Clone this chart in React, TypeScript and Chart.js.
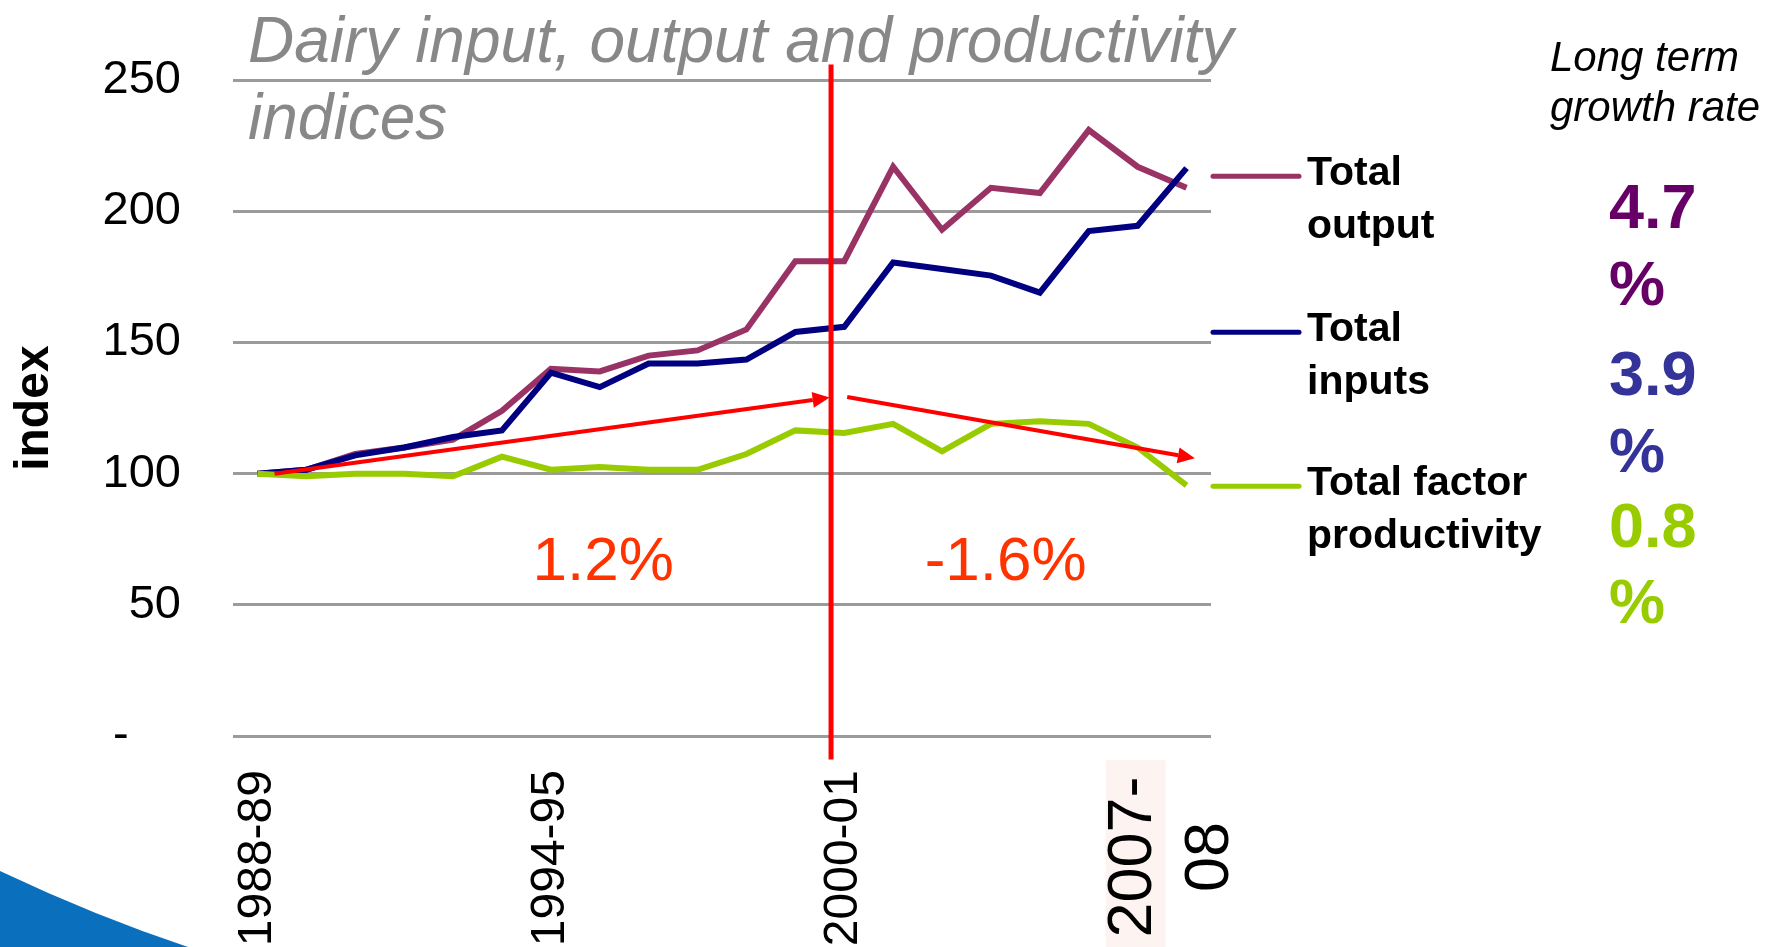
import React, { useEffect, useRef } from 'react';
import { Chart, registerables } from 'chart.js';

Chart.register(...registerables);

const FAMILY = "'Liberation Sans', Arial, Helvetica, sans-serif";

// ---- data ----
const categories = [
  '1988-89', '1989-90', '1990-91', '1991-92', '1992-93', '1993-94', '1994-95',
  '1995-96', '1996-97', '1997-98', '1998-99', '1999-00', '2000-01', '2001-02',
  '2002-03', '2003-04', '2004-05', '2005-06', '2006-07', '2007-08',
];
const totalOutput = [100, 101.5, 107.5, 110, 113, 124, 140, 139, 145, 147, 155, 181, 181, 217, 193, 209, 207, 231, 217, 209];
const totalInputs = [100, 101.5, 107, 110, 114, 116.5, 138.5, 133, 142, 142, 143.5, 154, 156, 180.5, 178, 175.5, 169, 192.5, 194.5, 216.5];
const totalFactorProductivity = [100, 99, 100, 100, 99, 106.5, 101.5, 102.5, 101.5, 101.5, 107.5, 116.5, 115.5, 119, 108.5, 119, 120, 119, 110, 95.5];

const yTickValues = [0, 50, 100, 150, 200, 250];
const shownTickIndexes = [0, 6, 12];
const lastTickIndex = 19;
const lastTickLines = ['2007-', '08'];

const seriesNames = ['Total output', 'Total inputs', 'Total factor productivity'];
const legendLines = [['Total', 'output'], ['Total', 'inputs'], ['Total factor', 'productivity']];
const seriesColors = ['#993366', '#000080', '#99CC00'];

const growthHeading = ['Long term', 'growth rate'];
const growthRates = ['4.7', '3.9', '0.8'];
const growthColors = ['#660066', '#333399', '#99CC00'];

const titleLines = ['Dairy input, output and productivity', 'indices'];

// trend annotations (category index, value)
const trendArrows = [
  { from: [0.35, 100], to: [11.7, 129] },
  { from: [12.06, 129.2], to: [19.17, 105.9] },
];
const trendLabels = [
  { text: '1.2%', at: 7.07, value: 59.3 },
  { text: '-1.6%', at: 15.3, value: 59.3 },
];
const breakAt = 11.73;
const breakRange = [256, -9];

function xAt(chart: any, idx: number) {
  const s = chart.scales.x;
  const p0 = s.getPixelForValue(0);
  const p1 = s.getPixelForValue(1);
  return p0 + idx * (p1 - p0);
}

function drawArrow(ctx: CanvasRenderingContext2D, x1: number, y1: number, x2: number, y2: number) {
  const ang = Math.atan2(y2 - y1, x2 - x1);
  const head = 17;
  const hw = 8;
  const bx = x2 - head * Math.cos(ang);
  const by = y2 - head * Math.sin(ang);
  ctx.beginPath();
  ctx.moveTo(x1, y1);
  ctx.lineTo(bx, by);
  ctx.stroke();
  ctx.beginPath();
  ctx.moveTo(x2, y2);
  ctx.lineTo(bx - hw * Math.sin(ang), by + hw * Math.cos(ang));
  ctx.lineTo(bx + hw * Math.sin(ang), by - hw * Math.cos(ang));
  ctx.closePath();
  ctx.fill();
}

const decorPlugin = {
  id: 'decor',
  beforeDraw(chart: any) {
    const ctx: CanvasRenderingContext2D = chart.ctx;
    const H = chart.height;
    ctx.save();
    // slide template swoosh (bottom-left)
    ctx.fillStyle = '#0A70BE';
    ctx.beginPath();
    ctx.moveTo(0, H - 76);
    ctx.quadraticCurveTo(95, H - 31, 188, H);
    ctx.lineTo(0, H);
    ctx.closePath();
    ctx.fill();
    ctx.restore();
  },
  afterDatasetsDraw(chart: any) {
    const ctx: CanvasRenderingContext2D = chart.ctx;
    const y = chart.scales.y;
    ctx.save();
    ctx.strokeStyle = '#FF0000';
    ctx.fillStyle = '#FF0000';
    // vertical break line
    const bx = xAt(chart, breakAt);
    ctx.lineWidth = 5;
    ctx.beginPath();
    ctx.moveTo(bx, y.getPixelForValue(breakRange[0]));
    ctx.lineTo(bx, y.getPixelForValue(breakRange[1]));
    ctx.stroke();
    // trend arrows
    ctx.lineWidth = 4;
    trendArrows.forEach((a) => {
      drawArrow(
        ctx,
        xAt(chart, a.from[0]), y.getPixelForValue(a.from[1]),
        xAt(chart, a.to[0]), y.getPixelForValue(a.to[1]),
      );
    });
    ctx.restore();
  },
  afterDraw(chart: any) {
    const ctx: CanvasRenderingContext2D = chart.ctx;
    const area = chart.chartArea;
    const y = chart.scales.y;
    ctx.save();
    ctx.textBaseline = 'alphabetic';

    // title (overlaid on the plot)
    ctx.font = `italic 64px ${FAMILY}`;
    ctx.fillStyle = '#888888';
    ctx.textAlign = 'left';
    ctx.fillText(titleLines[0], area.left + 15, area.top - 18);
    ctx.fillText(titleLines[1], area.left + 15, area.top + 59);

    // trend labels
    ctx.font = `62px ${FAMILY}`;
    ctx.fillStyle = '#FF3300';
    ctx.textAlign = 'center';
    trendLabels.forEach((t) => {
      ctx.fillText(t.text, xAt(chart, t.at), y.getPixelForValue(t.value));
    });

    // last category label (separate text box)
    const px = chart.scales.x.getPixelForValue(lastTickIndex);
    ctx.fillStyle = '#FDF4F2';
    ctx.fillRect(px - 81, area.bottom + 24, 60, chart.height - area.bottom - 24);
    ctx.save();
    ctx.font = `63px ${FAMILY}`;
    ctx.fillStyle = '#000000';
    ctx.textAlign = 'center';
    ctx.textBaseline = 'middle';
    const cy = area.bottom + 121;
    [px - 53, px + 24].forEach((lx, i) => {
      ctx.save();
      ctx.translate(lx, cy);
      ctx.rotate(-Math.PI / 2);
      ctx.fillText(lastTickLines[i], 0, 0);
      ctx.restore();
    });
    ctx.restore();

    // legend
    const lx0 = area.right + 2;
    const itemTops = [96, 252, 406];
    legendLines.forEach((lines, i) => {
      const ly = area.top + itemTops[i];
      ctx.strokeStyle = seriesColors[i];
      ctx.lineWidth = 5;
      ctx.lineCap = 'round';
      ctx.beginPath();
      ctx.moveTo(lx0, ly);
      ctx.lineTo(lx0 + 86, ly);
      ctx.stroke();
      ctx.font = `bold 41px ${FAMILY}`;
      ctx.fillStyle = '#000000';
      ctx.textAlign = 'left';
      lines.forEach((t, j) => ctx.fillText(t, lx0 + 94, ly + 9 + j * 53));
    });

    // long term growth rates
    ctx.font = `italic 42px ${FAMILY}`;
    ctx.fillStyle = '#000000';
    ctx.fillText(growthHeading[0], 1550, 71);
    ctx.fillText(growthHeading[1], 1550, 121);
    const rateBaselines = [[228, 305], [395, 472], [547, 623]];
    ctx.font = `bold 63px ${FAMILY}`;
    growthRates.forEach((r, i) => {
      ctx.fillStyle = growthColors[i];
      ctx.fillText(r, 1609, rateBaselines[i][0]);
      ctx.fillText('%', 1609, rateBaselines[i][1]);
    });
    ctx.restore();
  },
};

export default function App() {
  const ref = useRef<HTMLCanvasElement>(null);

  useEffect(() => {
    const canvas = ref.current;
    if (!canvas) return;
    const seriesData = [totalOutput, totalInputs, totalFactorProductivity];
    const chart = new Chart(canvas, {
      type: 'line',
      data: {
        labels: categories,
        datasets: seriesData.map((d, i) => ({
          label: seriesNames[i],
          data: d,
          borderColor: seriesColors[i],
          backgroundColor: seriesColors[i],
          borderWidth: 6,
          pointRadius: 0,
          tension: 0,
          fill: false,
          order: 3 - i,
        })),
      },
      options: {
        animation: false,
        responsive: false,
        devicePixelRatio: 1,
        layout: { padding: { left: 0, top: 78, right: 555, bottom: 0 } },
        plugins: {
          legend: { display: false },
          title: { display: false },
          tooltip: { enabled: false },
        },
        scales: {
          x: {
            type: 'category',
            offset: true,
            grid: { display: false, drawTicks: false },
            border: { display: false },
            ticks: {
              autoSkip: false,
              minRotation: 90,
              maxRotation: 90,
              padding: 34,
              color: '#000000',
              font: { size: 48, family: FAMILY },
              callback: (_v: any, i: number) => (shownTickIndexes.includes(i) ? categories[i] : ''),
            },
            afterFit: (s: any) => {
              s.height = 211;
            },
          },
          y: {
            min: yTickValues[0],
            max: yTickValues[yTickValues.length - 1],
            grid: { color: '#9B9B9B', lineWidth: 3, drawTicks: false },
            border: { display: false },
            ticks: {
              stepSize: 50,
              padding: 52,
              color: '#000000',
              font: { size: 47, family: FAMILY },
              callback: (v: any) => (Number(v) === 0 ? '-    ' : String(v)),
            },
            title: {
              display: true,
              text: 'index',
              color: '#000000',
              font: { size: 48, weight: 'bold', family: FAMILY },
              padding: { top: 6, bottom: 0 },
            },
            afterFit: (s: any) => {
              s.width = 233;
            },
          },
        },
      },
      plugins: [decorPlugin],
    } as any);
    return () => chart.destroy();
  }, []);

  return (
    <div style={{ position: 'fixed', left: 0, top: 0, width: 1766, height: 947, overflow: 'hidden', background: '#ffffff' }}>
      <canvas ref={ref} width={1766} height={947} style={{ display: 'block', width: 1766, height: 947 }} />
    </div>
  );
}
